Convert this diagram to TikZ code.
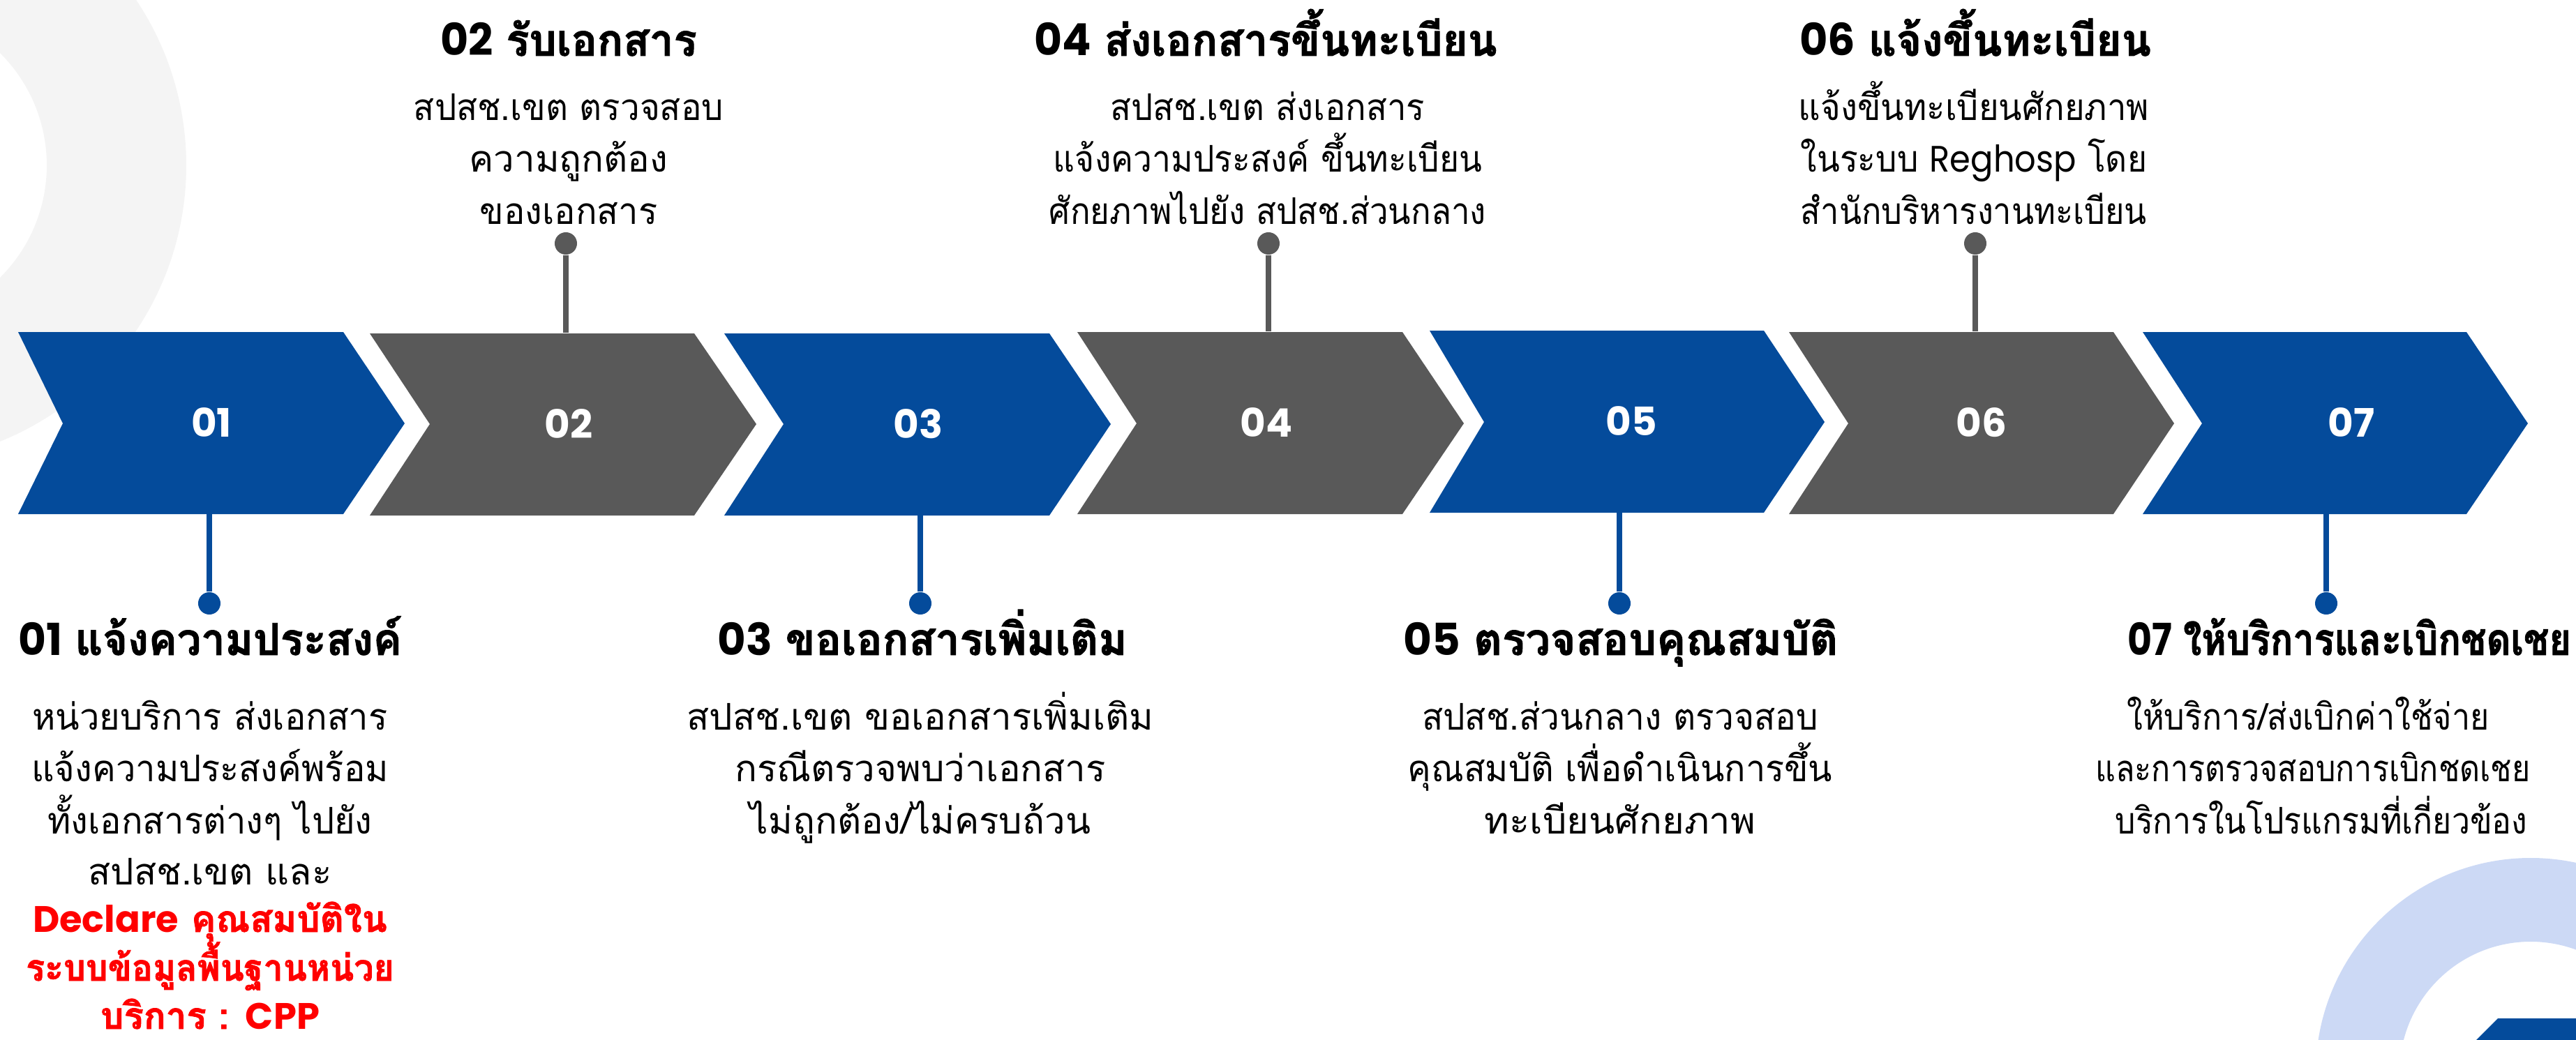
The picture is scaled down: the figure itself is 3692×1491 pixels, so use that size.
\documentclass[tikz,border=0pt]{standalone}
\usepackage{fontspec}
\newfontfamily\thai[Script=Thai, BoldFeatures={FakeBold=1.5}]{Loma}
\newfontfamily\pop{Poppins}
\definecolor{cblue}{HTML}{044B9B}
\definecolor{cgray}{HTML}{595959}
\definecolor{ringgray}{HTML}{F4F4F4}
\definecolor{ringblue}{HTML}{CCD9F5}
\definecolor{cred}{HTML}{FF0000}
\tikzset{
  num/.style={text=white, font=\pop\bfseries\fontsize{16}{16}\selectfont, inner sep=0pt, minimum height=2.61cm},
  pindot/.style={circle, inner sep=0pt, minimum size=0.32cm},
  ttl/.style={anchor=base, inner sep=0pt, font=\fontsize{18}{18}\selectfont},
  body/.style={anchor=base, inner sep=0pt, font=\thai\fontsize{15}{15}\selectfont},
  redb/.style={anchor=base, inner sep=0pt, text=cred, font=\thai\bfseries\fontsize{15}{15}\selectfont},
  bline/.style={draw=cblue, line width=0.073cm},
  gline/.style={draw=cgray, line width=0.073cm},
}
\newcommand{\ttlx}[2]{{\pop\bfseries #1} {\thai\bfseries #2}}
\newcommand{\sx}[2]{\scalebox{#1}[1]{#2}}
\begin{document}
\begin{tikzpicture}[x=0.01cm,y=-0.01cm]
\useasboundingbox (0,0) rectangle (3692,1491);
\clip (0,0) rectangle (3692,1491);
% background rings
\fill[ringgray, even odd rule] (-160,237) circle (427) (-160,237) circle (227);
\fill[ringblue, even odd rule] (3627,1538) circle (308) (3627,1538) circle (188);
\fill[cblue] (3549,1491) -- (3580,1460) -- (3692,1460) -- (3692,1491) -- cycle;
% chevrons
\fill[cblue] (26,476) -- (492,476) -- (580,607) -- (492,737) -- (26,737) -- (90,607) -- cycle;
\fill[cgray] (530,478) -- (995,478) -- (1084,608) -- (995,739) -- (530,739) -- (616,608) -- cycle;
\fill[cblue] (1038,478) -- (1504,478) -- (1592,608) -- (1504,739) -- (1038,739) -- (1123,608) -- cycle;
\fill[cgray] (1544,476) -- (2010,476) -- (2098,607) -- (2010,737) -- (1544,737) -- (1629,607) -- cycle;
\fill[cblue] (2049,474) -- (2528,474) -- (2615,605) -- (2528,735) -- (2049,735) -- (2127,605) -- cycle;
\fill[cgray] (2564,476) -- (3029,476) -- (3116,607) -- (3029,737) -- (2564,737) -- (2649,607) -- cycle;
\fill[cblue] (3071,476) -- (3535,476) -- (3623,607) -- (3535,737) -- (3071,737) -- (3156,607) -- cycle;
% numbers
\node[num] (c1) at (303,606) {01};
\node[num] (c2) at (815,608) {02};
\node[num] (c3) at (1316,608) {03};
\node[num] (c4) at (1815,606) {04};
\node[num] (c5) at (2338,604) {05};
\node[num] (c6) at (2840,606) {06};
\node[num] (c7) at (3370,606) {07};
% dots and connectors
\node[pindot, fill=cblue] (d1) at (300,865) {};
\node[pindot, fill=cgray] (d2) at (811,349) {};
\node[pindot, fill=cblue] (d3) at (1319,865) {};
\node[pindot, fill=cgray] (d4) at (1818,349) {};
\node[pindot, fill=cblue] (d5) at (2321,865) {};
\node[pindot, fill=cgray] (d6) at (2831,349) {};
\node[pindot, fill=cblue] (d7) at (3334,865) {};
\draw[bline] (d1) -- (d1 |- c1.south);
\draw[gline] (d2) -- (d2 |- c2.north);
\draw[bline] (d3) -- (d3 |- c3.south);
\draw[gline] (d4) -- (d4 |- c4.north);
\draw[bline] (d5) -- (d5 |- c5.south);
\draw[gline] (d6) -- (d6 |- c6.north);
\draw[bline] (d7) -- (d7 |- c7.south);
% top texts
\node[ttl] (t2) at (815,80) {\sx{0.975}{\ttlx{02}{รับเอกสาร}}};
\node[body] (b2a) at (815,173) {\sx{0.935}{สปสช.เขต ตรวจสอบ}};
\node[body] (b2b) at (815,247) {ความถูกต้อง};
\node[body] (b2c) at (815,321) {\sx{0.96}{ของเอกสาร}};
\node[ttl] (t4) at (1814,80) {\sx{0.97}{\ttlx{04}{ส่งเอกสารขึ้นทะเบียน}}};
\node[body] (b4a) at (1817,173) {\sx{0.93}{สปสช.เขต ส่งเอกสาร}};
\node[body] (b4b) at (1817,247) {\sx{0.91}{แจ้งความประสงค์ ขึ้นทะเบียน}};
\node[body] (b4c) at (1817,321) {\sx{0.9}{ศักยภาพไปยัง สปสช.ส่วนกลาง}};
\node[ttl] (t6) at (2831,80) {\sx{0.98}{\ttlx{06}{แจ้งขึ้นทะเบียน}}};
\node[body] (b6a) at (2829,173) {\sx{0.93}{แจ้งขึ้นทะเบียนศักยภาพ}};
\node[body] (b6b) at (2829,247) {\sx{0.91}{ในระบบ {\pop Reghosp} โดย}};
\node[body] (b6c) at (2829,321) {\sx{0.89}{สำนักบริหารงานทะเบียน}};
% bottom texts
\node[ttl] (t1) at (301,939) {\sx{0.967}{\ttlx{01}{แจ้งความประสงค์}}};
\node[body] (b1a) at (301,1046) {\sx{0.96}{หน่วยบริการ ส่งเอกสาร}};
\node[body] (b1b) at (301,1120) {\sx{0.96}{แจ้งความประสงค์พร้อม}};
\node[body] (b1c) at (301,1195) {\sx{0.96}{ทั้งเอกสารต่างๆ ไปยัง}};
\node[body] (b1d) at (301,1268) {สปสช.เขต และ};
\node[redb] (r1a) at (301,1336) {{\pop\bfseries Declare} คุณสมบัติใน};
\node[redb] (r1b) at (301,1406) {\sx{0.95}{ระบบข้อมูลพื้นฐานหน่วย}};
\node[redb] (r1c) at (301,1475) {บริการ : {\pop\bfseries CPP}};
\node[ttl] (t3) at (1322,939) {\sx{0.985}{\ttlx{03}{ขอเอกสารเพิ่มเติม}}};
\node[body] (b3a) at (1319,1046) {สปสช.เขต ขอเอกสารเพิ่มเติม};
\node[body] (b3b) at (1319,1120) {กรณีตรวจพบว่าเอกสาร};
\node[body] (b3c) at (1319,1195) {ไม่ถูกต้อง/ไม่ครบถ้วน};
\node[ttl] (t5) at (2323,939) {\sx{0.99}{\ttlx{05}{ตรวจสอบคุณสมบัติ}}};
\node[body] (b5a) at (2322,1046) {\sx{0.94}{สปสช.ส่วนกลาง ตรวจสอบ}};
\node[body] (b5b) at (2322,1120) {\sx{0.955}{คุณสมบัติ เพื่อดำเนินการขึ้น}};
\node[body] (b5c) at (2322,1195) {\sx{1.03}{ทะเบียนศักยภาพ}};
\node[ttl] (t7) at (3367,939) {\sx{0.85}{\ttlx{07}{ให้บริการและเบิกชดเชย}}};
\node[body] (b7a) at (3308,1046) {\sx{0.885}{ให้บริการ/ส่งเบิกค่าใช้จ่าย}};
\node[body] (b7b) at (3315,1120) {\sx{0.85}{และการตรวจสอบการเบิกชดเชย}};
\node[body] (b7c) at (3327,1195) {\sx{0.88}{บริการในโปรแกรมที่เกี่ยวข้อง}};
\end{tikzpicture}
\end{document}
